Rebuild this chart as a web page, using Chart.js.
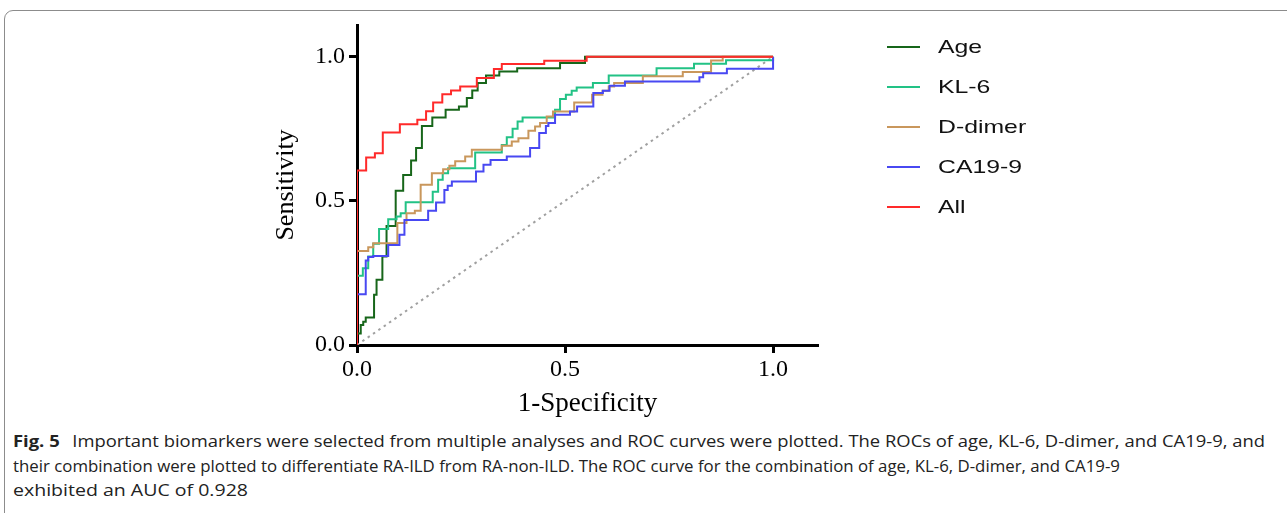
<!DOCTYPE html>
<html>
<head>
<meta charset="utf-8">
<script src="https://cdn.jsdelivr.net/npm/chart.js@4.4.1/dist/chart.umd.min.js"></script>
<style>
    html, body { margin: 0; padding: 0; background: #fff; }
    body { width: 1287px; height: 513px; position: relative; overflow: hidden; }
    #frame {
        position: absolute; left: 4px; top: 10px; width: 1330px; height: 530px;
        border: 1px solid #8c8c8c; border-radius: 9px;
    }
    #rocChart { position: absolute; left: 0; top: 0; }
    .legend-item { position: absolute; left: 887px; height: 40px; width: 200px; }
    .legend-line { position: absolute; left: 0; top: 19px; width: 33px; height: 2px; }
    .legend-label {
        position: absolute; left: 51px; top: 0; line-height: 40px; white-space: nowrap;
        font-family: "Liberation Sans", Arial, sans-serif; font-size: 18.5px; color: #111;
        transform: scaleX(1.34); transform-origin: left center;
    }
    #caption {
        position: absolute; left: 13px; top: 429px; white-space: nowrap;
        font-family: "Open Sans", "Noto Sans", sans-serif; font-size: 16.5px; line-height: 24.5px; color: #222;
    }
    #caption .cap-line { height: 24.5px; }
    #caption .cap-line span { display: inline-block; transform-origin: left top; }
    #caption b { font-weight: 700; margin-right: 7px; }
</style>
</head>
<body>
<div id="frame"></div>
<canvas id="rocChart" width="1287" height="420"></canvas>
<div id="chartLegend"></div>
<div id="caption">
    <div class="cap-line"><span data-w="1252"><b>Fig. 5</b> Important biomarkers were selected from multiple analyses and ROC curves were plotted. The ROCs of age, KL-6, D-dimer, and CA19-9, and</span></div>
    <div class="cap-line"><span data-w="1107">their combination were plotted to differentiate RA-ILD from RA-non-ILD. The ROC curve for the combination of age, KL-6, D-dimer, and CA19-9</span></div>
    <div class="cap-line"><span data-w="235">exhibited an AUC of 0.928</span></div>
</div>
<script>
// 1-Specificity / Sensitivity step points
const ageFpr = [0, 0, 0.009, 0.015, 0.021, 0.041, 0.047, 0.061, 0.071, 0.093, 0.111, 0.130, 0.142, 0.156, 0.181, 0.213, 0.245, 0.264, 0.277, 0.290, 0.310, 0.342, 0.385, 0.488, 0.548, 1.0];
const ageTpr = [0, 0.040, 0.069, 0.081, 0.095, 0.174, 0.226, 0.307, 0.413, 0.535, 0.590, 0.640, 0.683, 0.760, 0.789, 0.816, 0.827, 0.857, 0.883, 0.909, 0.935, 0.949, 0.960, 0.978, 1.0, 1.0];

const kl6Fpr = [0, 0, 0.014, 0.027, 0.039, 0.053, 0.075, 0.095, 0.105, 0.117, 0.182, 0.195, 0.206, 0.219, 0.284, 0.348, 0.360, 0.374, 0.386, 0.398, 0.476, 0.488, 0.502, 0.516, 0.528, 0.567, 0.605, 0.720, 0.810, 0.887, 1.0];
const kl6Tpr = [0, 0.240, 0.266, 0.307, 0.351, 0.402, 0.436, 0.446, 0.457, 0.495, 0.532, 0.573, 0.596, 0.613, 0.668, 0.694, 0.721, 0.750, 0.775, 0.789, 0.816, 0.853, 0.868, 0.882, 0.893, 0.909, 0.935, 0.960, 0.976, 0.988, 1.0];

const ddFpr = [0, 0, 0.027, 0.039, 0.097, 0.119, 0.139, 0.153, 0.180, 0.207, 0.222, 0.236, 0.260, 0.276, 0.348, 0.372, 0.388, 0.412, 0.428, 0.440, 0.456, 0.471, 0.522, 0.565, 0.590, 0.605, 0.618, 0.687, 0.783, 0.851, 0.879, 1.0];
const ddTpr = [0, 0.326, 0.339, 0.353, 0.423, 0.457, 0.466, 0.556, 0.596, 0.610, 0.622, 0.637, 0.654, 0.677, 0.691, 0.706, 0.717, 0.743, 0.758, 0.770, 0.793, 0.810, 0.841, 0.868, 0.882, 0.897, 0.909, 0.932, 0.947, 0.987, 1.0, 1.0];

const caFpr = [0, 0, 0.021, 0.027, 0.039, 0.075, 0.102, 0.114, 0.171, 0.190, 0.210, 0.218, 0.228, 0.286, 0.304, 0.321, 0.360, 0.416, 0.438, 0.454, 0.460, 0.476, 0.512, 0.529, 0.568, 0.591, 0.607, 0.644, 0.823, 0.832, 0.889, 1.0, 1.0];
const caTpr = [0, 0.176, 0.293, 0.305, 0.309, 0.347, 0.382, 0.434, 0.466, 0.494, 0.538, 0.552, 0.567, 0.602, 0.625, 0.642, 0.654, 0.683, 0.735, 0.760, 0.770, 0.799, 0.810, 0.827, 0.874, 0.882, 0.899, 0.914, 0.929, 0.943, 0.958, 0.958, 1.0];

const allFpr = [0, 0, 0.022, 0.043, 0.062, 0.103, 0.145, 0.166, 0.183, 0.205, 0.226, 0.248, 0.288, 0.329, 0.348, 0.450, 0.552, 1.0];
const allTpr = [0, 0.605, 0.650, 0.665, 0.737, 0.766, 0.781, 0.811, 0.841, 0.870, 0.883, 0.897, 0.926, 0.957, 0.975, 0.986, 1.0, 1.0];

const refX = [0, 1];
const refY = [0, 1];

const xTicks = [0, 0.5, 1.0];
const yTicks = [0, 0.5, 1.0];

const seriesNames = ['Age', 'KL-6', 'D-dimer', 'CA19-9', 'All'];
const seriesColors = ['#17661a', '#22c285', '#c9975c', '#4848f2', '#ff2a2a'];

function toPoints(xs, ys) {
    return xs.map((x, i) => ({ x: x, y: ys[i] }));
}

const curves = [
    toPoints(ageFpr, ageTpr),
    toPoints(kl6Fpr, kl6Tpr),
    toPoints(ddFpr, ddTpr),
    toPoints(caFpr, caTpr),
    toPoints(allFpr, allTpr)
];

// Chart.js paints the first dataset last, so put "All" first to keep it on top
const datasets = [];
for (let i = curves.length - 1; i >= 0; i--) {
    datasets.push({
        label: seriesNames[i],
        data: curves[i],
        borderColor: seriesColors[i],
        borderWidth: 2,
        stepped: 'before',
        pointRadius: 0,
        fill: false
    });
}
datasets.push({
    label: 'reference',
    data: toPoints(refX, refY),
    borderColor: '#a0a0a0',
    borderWidth: 2,
    borderDash: [2.5, 4],
    pointRadius: 0,
    fill: false
});

const serif = '"Liberation Serif", "Times New Roman", serif';

function axisTicks(values) {
    return function (scale) {
        scale.ticks = values.map(v => ({ value: v }));
    };
}

new Chart(document.getElementById('rocChart'), {
    type: 'line',
    data: { datasets: datasets },
    options: {
        responsive: false,
        animation: false,
        events: [],
        layout: { padding: { left: 0, right: 469, top: 25, bottom: 0 } },
        plugins: {
            legend: { display: false },
            tooltip: { enabled: false }
        },
        scales: {
            x: {
                type: 'linear',
                position: 'bottom',
                min: 0,
                max: 1.108,
                afterBuildTicks: axisTicks(xTicks),
                afterFit: function (scale) { scale.height = 75; },
                border: { display: true, color: '#000', width: 3 },
                grid: { drawOnChartArea: false, drawTicks: true, tickLength: 8, tickWidth: 3, tickColor: '#000' },
                ticks: {
                    color: '#000',
                    padding: 2,
                    maxRotation: 0,
                    font: { family: serif, size: 24 },
                    callback: v => v.toFixed(1)
                },
                title: {
                    display: true,
                    text: '1-Specificity',
                    color: '#000',
                    font: { family: serif, size: 27 },
                    padding: { top: 0, bottom: 0 }
                }
            },
            y: {
                type: 'linear',
                position: 'left',
                min: 0,
                max: 1.11,
                afterBuildTicks: axisTicks(yTicks),
                afterFit: function (scale) { scale.width = 357; },
                border: { display: true, color: '#000', width: 3 },
                grid: { drawOnChartArea: false, drawTicks: true, tickLength: 8, tickWidth: 3, tickColor: '#000' },
                ticks: {
                    color: '#000',
                    padding: 4,
                    font: { family: serif, size: 24 },
                    callback: v => v.toFixed(1)
                },
                title: {
                    display: true,
                    text: 'Sensitivity',
                    color: '#000',
                    font: { family: serif, size: 26 },
                    padding: { top: 271, bottom: 0 }
                }
            }
        }
    }
});

// legend drawn as html, same order as the figure
const chartLegend = document.getElementById('chartLegend');
seriesNames.forEach((name, i) => {
    const item = document.createElement('div');
    item.className = 'legend-item';
    item.style.top = (27 + i * 40) + 'px';
    item.innerHTML = `<div class="legend-line" style="background:${seriesColors[i]}"></div><span class="legend-label">${name}</span>`;
    chartLegend.appendChild(item);
});

// the original caption uses a condensed face; narrow each line to its width in the figure
document.querySelectorAll('#caption .cap-line span').forEach(span => {
    const w = span.getBoundingClientRect().width;
    const target = parseFloat(span.dataset.w);
    span.style.transform = 'scaleX(' + (target / w).toFixed(4) + ')';
});
</script>
</body>
</html>
